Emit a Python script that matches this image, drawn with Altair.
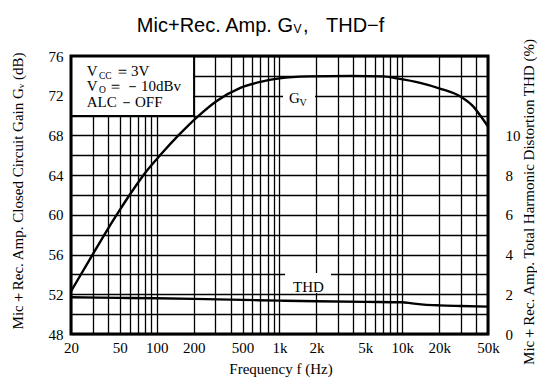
import math
import altair as alt
import pandas as pd

# ---- data ----
gv_freq = [20, 30, 40, 50, 60, 80, 110, 150, 220, 310, 480, 700, 1000, 1700,
           3800, 7000, 9000, 14000, 20000, 30000, 38000, 45000, 50000]
gv_db = [52.3, 56.0, 58.6, 60.5, 62.0, 64.2, 66.2, 68.0, 70.0, 71.5, 72.8, 73.4,
         73.75, 73.95, 74.0, 73.95, 73.75, 73.3, 72.75, 71.9, 70.9, 69.7, 68.9]
thd_freq = [20, 50, 100, 200, 500, 1000, 2000, 5000, 10000, 12000, 15000,
            20000, 30000, 50000]
thd_pct = [1.85, 1.82, 1.8, 1.77, 1.72, 1.68, 1.65, 1.62, 1.6, 1.54, 1.48,
           1.44, 1.41, 1.38]

x_grid = [20, 30, 40, 50, 60, 70, 80, 90, 100, 200, 300, 400, 500, 600, 700,
          800, 900, 1000, 2000, 3000, 4000, 5000, 6000, 7000, 8000, 9000,
          10000, 20000, 30000, 40000, 50000]
x_labels = [20, 50, 100, 200, 500, 1000, 2000, 5000, 10000, 20000, 50000]
gv_ticks = list(range(48, 77, 2))
thd_ticks = [0, 2, 4, 6, 8, 10]

W, H = 417, 278
SERIF = "Liberation Serif"
SANS = "Liberation Sans"


def fx(f):
    return W * math.log10(f / 20) / math.log10(50000 / 20)


def fy(db):
    return H * (76 - db) / 28


gv_df = pd.DataFrame({"f": gv_freq, "g": gv_db})
thd_df = pd.DataFrame({"f": thd_freq, "t": thd_pct})
one = pd.DataFrame({"a": [0]})

xscale = alt.Scale(type="log", domain=[20, 50000], nice=False)
gvscale = alt.Scale(domain=[48, 76], nice=False, zero=False)
thdscale = alt.Scale(domain=[0, 14], nice=False, zero=False)

lbl_expr = ("indexof([" + ",".join(str(v) for v in x_labels) +
            "], datum.value) >= 0 ? (datum.value >= 1000 ? (datum.value/1000) + 'k' : '' + datum.value) : ''")

grid_kw = dict(grid=True, gridColor="black", gridWidth=1.3, gridOpacity=1,
               ticks=False, domain=False, labelFont=SERIF, labelFontSize=15,
               labelColor="black", title=None)

xaxis = alt.Axis(values=x_grid, labelExpr=lbl_expr, labelPadding=6,
                 labelOverlap=False, labelFlush=False, **grid_kw)
yaxis = alt.Axis(values=gv_ticks, orient="left",
                 labelExpr="datum.value % 4 == 0 ? '' + datum.value : ''",
                 labelPadding=8, labelOverlap=False, labelFlush=False, **grid_kw)
thdaxis = alt.Axis(values=thd_ticks, orient="right", grid=False, ticks=False,
                   domain=False, labelPadding=17, labelAlign="left",
                   labelFont=SERIF, labelFontSize=15, labelColor="black",
                   labelOverlap=False, labelFlush=False, title=None)

gv = alt.Chart(gv_df).mark_line(color="black", strokeWidth=2.4,
                                interpolate="monotone").encode(
    x=alt.X("f:Q", scale=xscale, axis=xaxis),
    y=alt.Y("g:Q", scale=gvscale, axis=yaxis),
)
thd = alt.Chart(thd_df).mark_line(color="black", strokeWidth=2.4,
                                  interpolate="monotone").encode(
    x=alt.X("f:Q", scale=xscale, axis=xaxis),
    y=alt.Y("t:Q", scale=thdscale, axis=thdaxis),
)


def rect(x1, x2, y1, y2, **kw):
    return alt.Chart(one).mark_rect(**kw).encode(
        x=alt.value(x1), x2=alt.value(x2), y=alt.value(y1), y2=alt.value(y2))


def txt(s, x, y, size=15, font=SERIF, align="left", baseline="alphabetic",
        angle=0):
    kw = dict(text=s, fontSize=size, font=font, align=align,
              baseline=baseline, color="black")
    if angle:
        kw["angle"] = angle
    return alt.Chart(one).mark_text(**kw).encode(x=alt.value(x), y=alt.value(y))


legend_box = rect(0, fx(200), 0, fy(70), fill="white", stroke="black",
                  strokeWidth=1.3)
gv_box = rect(212, 244, 32, 50, fill="white")
thd_box = rect(214, 260, 217, 237, fill="white")
frame = rect(0, W, 0, H, fillOpacity=0, stroke="black", strokeWidth=3)

texts = [
    # main title
    txt("Mic+Rec. Amp. G", 222, -24, size=20, font=SANS, align="right"),
    txt("V", 222.5, -23, size=12, font=SANS),
    txt(",", 232, -24, size=20, font=SANS),
    txt("THD−f", 255, -24, size=20, font=SANS),
    # legend box
    txt("V", 15.7, 19.5), txt("CC", 28, 22.5, size=9.5), txt("＝", 44, 19.5),
    txt("3V", 60, 19.5),
    txt("V", 15.7, 34.5), txt("O", 28, 37, size=9.5), txt("＝", 37, 34.5),
    txt("－", 54, 34.5), txt("10dBv", 70, 34.5),
    txt("ALC", 15.7, 50.7), txt("－", 48, 50.7), txt("OFF", 64, 50.7),
    # curve labels
    txt("G", 218, 47), txt("V", 228.5, 49.5, size=10),
    txt("THD", 222, 236),
    # axis titles
    txt("Frequency f (Hz)", 210, 318, align="center"),
    txt("Mic＋Rec. Amp. Closed Circuit Gain Gᵥ (dB)", -53, 135,
        align="center", baseline="middle", angle=270),
    txt("Mic＋Rec. Amp. Total Harmonic Distortion THD (%)", 458, 146,
        align="center", baseline="middle", angle=270),
]

chart = alt.layer(gv, thd, legend_box, gv_box, thd_box, frame, *texts).resolve_scale(
    y="independent"
).properties(
    width=W, height=H,
    autosize=alt.AutoSizeParams(type="none"),
    padding={"left": 63, "top": 48, "right": 49, "bottom": 44},
    background="white",
).configure_view(strokeWidth=0)

chart.save("out.html", embed_options={"renderer": "svg", "actions": False})
